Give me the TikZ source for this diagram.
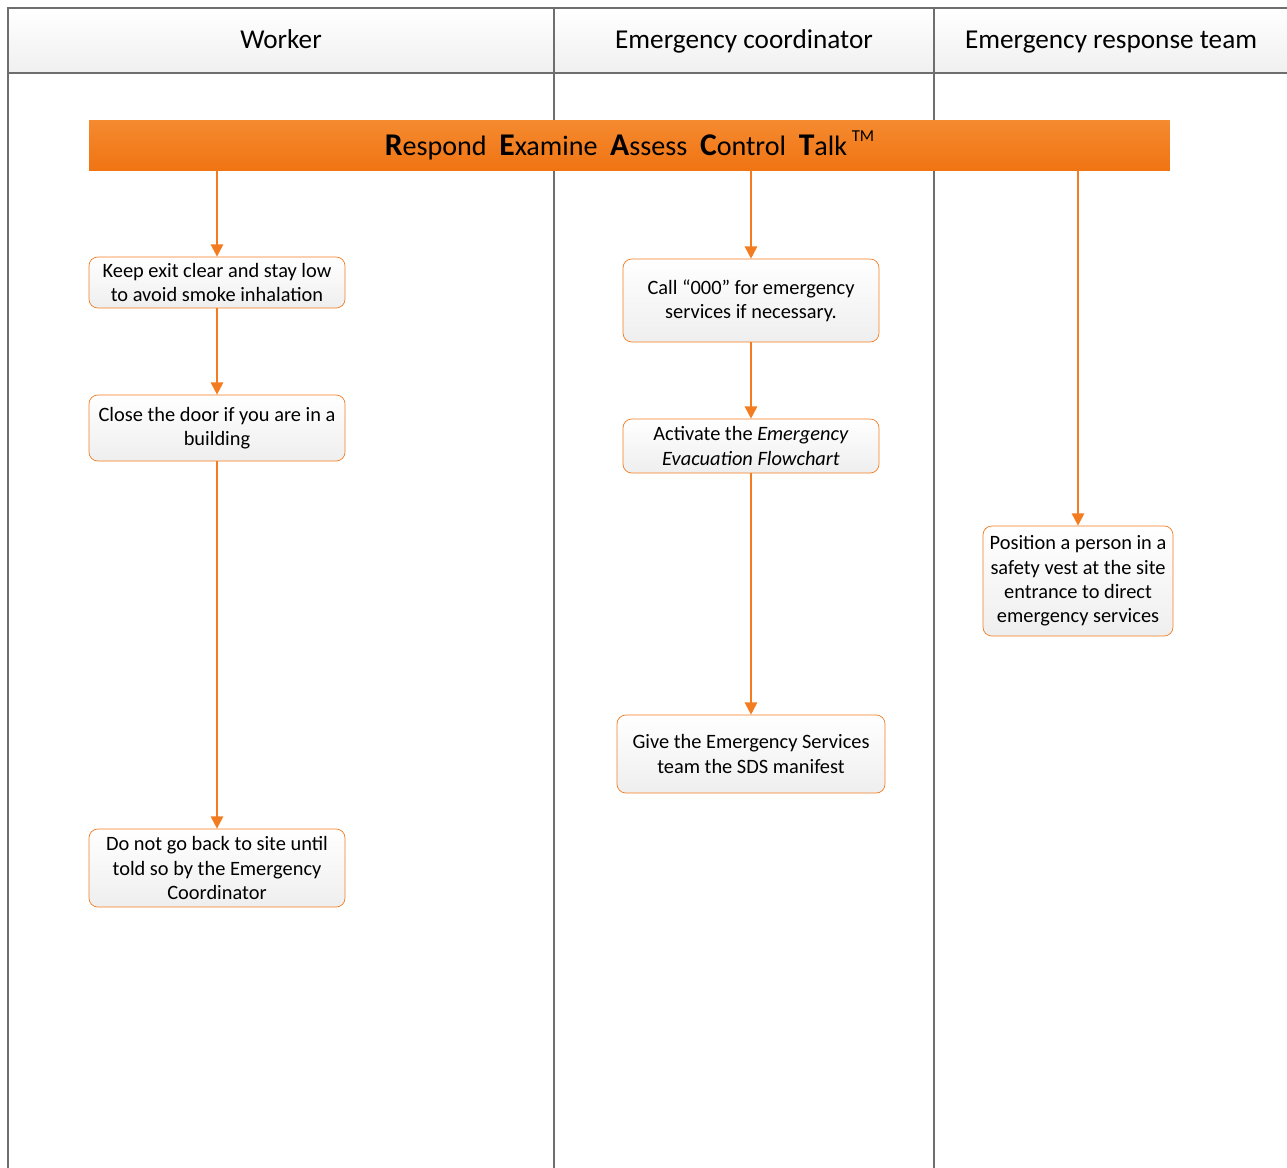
\documentclass[tikz,border=0pt]{standalone}
\usepackage{fontspec}
\setmainfont{Carlito}
\usetikzlibrary{arrows.meta,positioning}

\definecolor{reactorange}{HTML}{F47C20}
\definecolor{bartop}{HTML}{F58A30}
\definecolor{barbottom}{HTML}{F07412}
\definecolor{lanegray}{HTML}{6E6E6E}

\tikzset{
  lane/.style={draw=lanegray,line width=0.8pt},
  lanehead/.style={anchor=base,font=\fontsize{15.5}{18}\selectfont},
  stepbox/.style={draw=reactorange,rounded corners=5pt,top color=white,bottom color=gray!13,
    align=center,inner sep=1pt,font=\fontsize{11.6}{13.9}\selectfont},
  flow/.style={draw=reactorange,line width=1.1pt,-{Triangle[width=7pt,length=7pt]}}
}
\newcommand{\capword}[2]{{\fontsize{18}{20}\selectfont\bfseries #1}#2}

\begin{document}
\begin{tikzpicture}[x=0.02cm,y=-0.02cm]
\useasboundingbox (0,0) rectangle (1287,1167);

% swimlanes
\shade[top color=white,bottom color=gray!12] (8,8) rectangle (1295,73);
\draw[lane] (8,1175) -- (8,8) -- (1295,8);
\draw[lane] (8,73) -- (1295,73);
\draw[lane] (554,8) -- (554,1175);
\draw[lane] (934,8) -- (934,1175);

\node[lanehead] (worker) at (281,48) {Worker};
\node[lanehead] (coord) at (744,48) {Emergency coordinator};
\node[lanehead] (team) at (1111,48) {Emergency response team};

% REACT bar
\node[top color=bartop,bottom color=barbottom,minimum width=21.62cm,minimum height=1cm,
  inner sep=0pt,font=\fontsize{16}{18}\selectfont] (react) at (629.5,145)
  {\capword{R}{espond}\hspace{0.45em}\capword{E}{xamine}\hspace{0.45em}\capword{A}{ssess}\hspace{0.45em}\capword{C}{ontrol}\hspace{0.45em}\capword{T}{alk}\,\raisebox{0.5em}{\fontsize{9.5}{11}\selectfont TM}};

% worker
\node[stepbox,minimum width=5.12cm,minimum height=1.02cm] (keep) at (217,282.5)
  {Keep exit clear and stay low\\to avoid smoke inhalation};
\node[stepbox,minimum width=5.12cm,minimum height=1.32cm] (door) at (217,428)
  {Close the door if you are in a\\building};
\node[stepbox,minimum width=5.12cm,minimum height=1.56cm] (back) at (217,868)
  {Do not go back to site until\\told so by the Emergency\\Coordinator};

% coordinator
\node[stepbox,minimum width=5.12cm,minimum height=1.66cm] (call) at (751,300.5)
  {Call “000” for emergency\\services if necessary.};
\node[stepbox,minimum width=5.12cm,minimum height=1.08cm] (activate) at (751,446)
  {Activate the \textit{Emergency}\\\textit{Evacuation Flowchart}};
\node[stepbox,minimum width=5.36cm,minimum height=1.56cm] (sds) at (751,754)
  {Give the Emergency Services\\team the SDS manifest};

% response team
\node[stepbox,minimum width=3.8cm,minimum height=2.2cm] (vest) at (1078,581)
  {Position a person in a\\safety vest at the site\\entrance to direct\\emergency services};

\draw[flow] (keep.north |- react.south) -- (keep);
\draw[flow] (keep) -- (door);
\draw[flow] (door) -- (back);
\draw[flow] (call.north |- react.south) -- (call);
\draw[flow] (call) -- (activate);
\draw[flow] (activate) -- (sds);
\draw[flow] (vest.north |- react.south) -- (vest);
\end{tikzpicture}
\end{document}
